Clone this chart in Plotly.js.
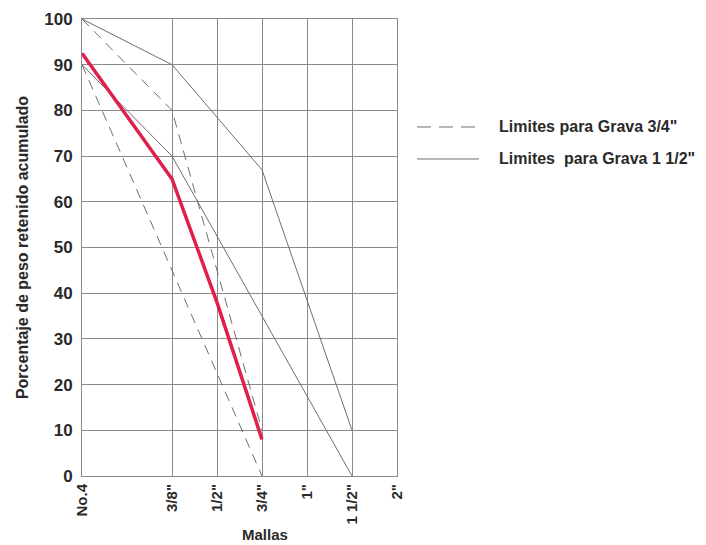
<!DOCTYPE html>
<html>
<head>
<meta charset="utf-8">
<script src="https://cdn.plot.ly/plotly-3.0.1.min.js"></script>
<style>html,body{margin:0;padding:0;background:#fff;}#chart{width:706px;height:545px;}</style>
</head>
<body>
<div id="chart"></div>
<script>
// Sieve positions (No.4 at 0, gap, then 3/8" ... 2")
const sievePos = [0, 2, 3, 4, 5, 6, 7];
const sieveLabels = ['No.4', '3/8"', '1/2"', '3/4"', '1"', '1 1/2"', '2"'];
const yTicks = [0, 10, 20, 30, 40, 50, 60, 70, 80, 90, 100];

// Limits for 3/4" gravel (dashed)
const g34UpperX = [0, 2, 3, 4];
const g34UpperY = [100, 80, 45, 10];
const g34LowerX = [0, 2, 3, 4];
const g34LowerY = [90, 45, 22.5, 0];

// Limits for 1 1/2" gravel (solid)
const g112UpperX = [0, 2, 4, 5, 6];
const g112UpperY = [100, 90, 67, 38.5, 10];
const g112LowerX = [0, 2, 4, 5, 6];
const g112LowerY = [90, 70, 35, 17.5, 0];

// Sample curve (red)
const sampleX = [0, 2, 3, 4];
const sampleY = [92.5, 65, 38, 8];

const legendNames = ['Limites para Grava 3/4"', 'Limites  para Grava 1 1/2"'];

const gray = '#6e6e6e';
const traces = [
  {x: g34UpperX, y: g34UpperY, mode: 'lines', name: legendNames[0],
   line: {color: gray, width: 1, dash: '10px,7px'}},
  {x: g34LowerX, y: g34LowerY, mode: 'lines', name: legendNames[0],
   line: {color: gray, width: 1, dash: '10px,7px'}},
  {x: g112UpperX, y: g112UpperY, mode: 'lines', name: legendNames[1],
   line: {color: gray, width: 1}},
  {x: g112LowerX, y: g112LowerY, mode: 'lines', name: legendNames[1],
   line: {color: gray, width: 1}},
  {x: sampleX, y: sampleY, mode: 'lines', name: 'Muestra',
   line: {color: '#e0204a', width: 3.5}}
];

const fam = '"Liberation Sans", Arial, sans-serif';
const txt = '#2a2a2a';
const font = {family: fam, size: 16, color: txt, weight: 'bold'};

// custom legend (line samples + labels) placed right of the plot
const legRowsY = [0.7637, 0.6937];
const shapes = [
  {type: 'line', xref: 'paper', yref: 'paper', x0: 1.0635, x1: 1.2603, y0: legRowsY[0], y1: legRowsY[0],
   line: {color: gray, width: 1, dash: '14px,8px'}},
  {type: 'line', xref: 'paper', yref: 'paper', x0: 1.0635, x1: 1.2603, y0: legRowsY[1], y1: legRowsY[1],
   line: {color: gray, width: 1}}
];
const annotations = [
  {xref: 'paper', yref: 'paper', x: 1.3175, y: legRowsY[0], xanchor: 'left', yanchor: 'middle',
   text: legendNames[0], showarrow: false, font: font},
  {xref: 'paper', yref: 'paper', x: 1.3175, y: legRowsY[1], xanchor: 'left', yanchor: 'middle',
   text: legendNames[1], showarrow: false, font: font},
  {xref: 'paper', yref: 'paper', x: 0.581, y: -0.127, xanchor: 'center', yanchor: 'middle',
   text: 'Mallas', showarrow: false, font: {family: fam, size: 15, color: txt, weight: 'bold'}}
];

const layout = {
  width: 706, height: 545,
  margin: {l: 82, r: 309, t: 19, b: 69},
  paper_bgcolor: '#ffffff', plot_bgcolor: '#ffffff',
  font: font,
  showlegend: false,
  shapes: shapes,
  annotations: annotations,
  xaxis: {
    range: [0, 7], tickmode: 'array', tickvals: sievePos, ticktext: sieveLabels,
    tickangle: -90, showgrid: true, gridcolor: '#8a8a8a', gridwidth: 1,
    showline: true, linecolor: '#8a8a8a', mirror: true, zeroline: false,
    ticks: '', ticklabelstandoff: 1, tickfont: {size: 15}
  },
  yaxis: {
    range: [0, 100], tickmode: 'array', tickvals: yTicks,
    showgrid: true, gridcolor: '#8a8a8a', gridwidth: 1,
    showline: true, linecolor: '#8a8a8a', mirror: true, zeroline: false,
    ticks: '', ticklabelstandoff: 5, tickfont: {size: 17},
    title: {text: 'Porcentaje de peso retenido acumulado', font: {size: 16}, standoff: 11}
  }
};
Plotly.newPlot('chart', traces, layout, {displayModeBar: false, staticPlot: true});
</script>
</body>
</html>
